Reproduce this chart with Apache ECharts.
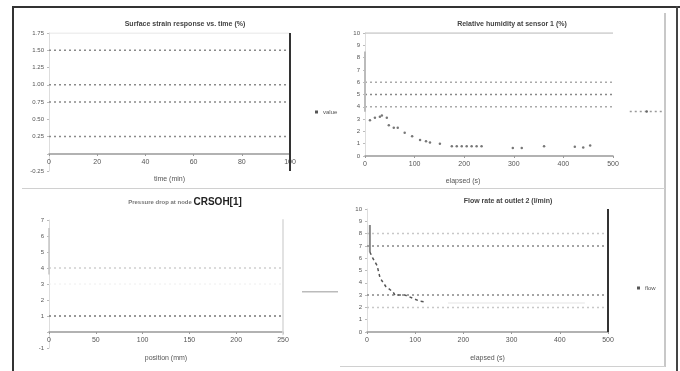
<!DOCTYPE html>
<html>
<head>
<meta charset="utf-8">
<script src="https://cdn.jsdelivr.net/npm/echarts@6/dist/echarts.min.js"></script>
<style>
  html, body { margin: 0; padding: 0; background: #fff; }
  #wrap { position: relative; width: 680px; height: 371px; overflow: hidden; }
  #chart { position: absolute; left: 0; top: 0; width: 680px; height: 371px; }
  .ln { position: absolute; }
</style>
</head>
<body>
<div id="wrap">
  <div class="ln" style="left:13px;top:6px;width:667px;height:2px;background:#333"></div>
  <div class="ln" style="left:12px;top:6px;width:2px;height:365px;background:#333"></div>
  <div class="ln" style="left:676px;top:6px;width:2px;height:365px;background:#444"></div>
  <div class="ln" style="left:664px;top:13px;width:2px;height:354px;background:#c8c8c8"></div>
  <div class="ln" style="left:22px;top:188px;width:643px;height:1px;background:#d0d0d0"></div>
  <div class="ln" style="left:340px;top:366px;width:325px;height:1px;background:#d0d0d0"></div>
  <div id="chart"></div>
</div>
<script>
// --- panel 1 (top left)
var tlTitle = 'Surface strain response vs. time (%)';
var tlXName = 'time (min)';
var tlLevels = [1.5, 1.0, 0.75, 0.25];
var tlTop = 1.75;
var tlEdgeX = 100;
var tlEdgeY = [-0.25, 1.75];

// --- panel 2 (top right)
var trTitle = 'Relative humidity at sensor 1 (%)';
var trXName = 'elapsed (s)';
var trLevels = [6, 5, 4];
var trTop = 10;
var trSpikeY = [8.5, 3.6];
var trX = [10, 20, 30, 34, 44, 48, 58, 66, 80, 95, 111, 123, 131, 151, 175, 185, 195, 205, 215, 225, 235, 298, 316, 361, 423, 440, 454];
var trY = [2.9, 3.1, 3.2, 3.3, 3.1, 2.5, 2.3, 2.3, 1.9, 1.6, 1.3, 1.2, 1.1, 1.0, 0.8, 0.8, 0.8, 0.8, 0.8, 0.8, 0.8, 0.65, 0.65, 0.8, 0.75, 0.7, 0.85];

// --- panel 3 (bottom left)
var blTitle = 'Pressure drop at node ';
var blTitleBold = 'CRSOH[1]';
var blXName = 'position (mm)';
var blLevels = [4, 1, 3];
var blSpikeY = [6.5, 3.6];
var blEdgeX = 250;
var blEdgeY = [-0.2, 7.1];

// --- panel 4 (bottom right)
var brTitle = 'Flow rate at outlet 2 (l/min)';
var brXName = 'elapsed (s)';
var brLevels = [8, 7, 3, 2];
var brFaint = { y: 2.35, x: [168, 452] };
var brSpikeY = [8.7, 6.5];
var brX = [6, 12, 21, 27, 39, 54, 58, 68, 79, 110, 120];
var brY = [6.5, 6.0, 5.4, 4.4, 3.7, 3.25, 3.0, 3.0, 3.0, 2.5, 2.45];
var brEdgeX = 500;
var brEdgeY = [0, 10];

var txt = '#555';
var font = 'Liberation Sans';

function level(i, y, x0, x1, color, width, type) {
    return {
        type: 'line', xAxisIndex: i, yAxisIndex: i,
        data: [[x0, y], [x1, y]], symbol: 'none', silent: true,
        lineStyle: { color: color, width: width, type: type }
    };
}
function vline(i, x, ys, color, width, name) {
    return {
        name: name, type: 'line', xAxisIndex: i, yAxisIndex: i,
        data: ys.map(function (y) { return [x, y]; }), symbol: 'none', silent: true,
        itemStyle: { color: color },
        lineStyle: { color: color, width: width }
    };
}
function xAx(i, min, max, step, name, gap, offset, pad) {
    return {
        gridIndex: i, type: 'value', min: min, max: max, interval: step,
        offset: offset,
        name: name, nameLocation: 'middle', nameGap: gap,
        nameTextStyle: { fontSize: 7, color: txt, fontFamily: font, padding: pad || 0 },
        axisLine: { onZero: false, lineStyle: { color: '#999', width: 1.5 } },
        axisTick: { length: 2, lineStyle: { color: '#999' } },
        axisLabel: { fontSize: 7, color: txt, fontFamily: font, margin: 5 },
        splitLine: { show: false }
    };
}
function yAx(i, min, max, step, hideZero, fmt) {
    return {
        gridIndex: i, type: 'value', min: min, max: max, interval: step,
        axisLine: { show: true, lineStyle: { color: '#ddd', width: 1 } },
        axisTick: { show: true, length: 2, lineStyle: { color: '#bbb' } },
        axisLabel: {
            fontSize: 6, color: txt, fontFamily: font, margin: 5,
            formatter: function (v) { return (hideZero && v === 0) ? '' : (fmt ? v.toFixed(2) : v); }
        },
        splitLine: { show: false }
    };
}

var series = [];
// panel 1
series.push(level(0, tlTop, 0, 100, '#e0e0e0', 1, 'solid'));
tlLevels.forEach(function (y) { series.push(level(0, y, 0, 100, '#8a8a8a', 1.5, [2, 3])); });
series.push(vline(0, tlEdgeX, tlEdgeY, '#333', 2, 'value'));
// panel 2
series.push(level(1, trTop, 0, 500, '#c8c8c8', 1.5, 'solid'));
series.push(level(1, trLevels[0], 0, 500, '#aaa', 1.5, [2, 3]));
series.push(level(1, trLevels[1], 0, 500, '#888', 1.5, [2, 3]));
series.push(level(1, trLevels[2], 0, 500, '#aaa', 1.5, [2, 3]));
series.push(vline(1, 0, trSpikeY, '#bbb', 2));
series.push({
    name: 'reading', type: 'line', xAxisIndex: 1, yAxisIndex: 1,
    data: trX.map(function (x, k) { return [x, trY[k]]; }),
    symbol: 'circle', symbolSize: 2.5, itemStyle: { color: '#777' },
    lineStyle: { width: 0, color: '#888' }
});
// panel 3
series.push(level(2, blLevels[0], 0, 250, '#cfcfcf', 1.5, [2, 3]));
series.push(level(2, blLevels[1], 0, 250, '#777', 1.5, [2, 3]));
series.push(level(2, blLevels[2], 0, 250, '#eeeeee', 1, [2, 3]));
series.push(vline(2, 0, blSpikeY, '#c4c4c4', 1.5));
series.push(vline(2, blEdgeX, blEdgeY, '#d8d8d8', 1.5, 'trend'));
// panel 4
series.push(level(3, brLevels[0], 0, 500, '#c8c8c8', 1.5, [2, 3]));
series.push(level(3, brLevels[1], 0, 500, '#888', 1.5, [2, 3]));
series.push(level(3, brLevels[2], 0, 500, '#888', 1.5, [2, 3]));
series.push(level(3, brLevels[3], 0, 500, '#c8c8c8', 1.5, [2, 3]));
series.push(level(3, brFaint.y, brFaint.x[0], brFaint.x[1], '#eeeeee', 1.5, 'solid'));
series.push(vline(3, brX[0], brSpikeY, '#888', 2));
series.push({
    name: 'flow', type: 'line', xAxisIndex: 3, yAxisIndex: 3,
    data: brX.map(function (x, k) { return [x, brY[k]]; }),
    symbol: 'none', itemStyle: { color: '#555' },
    lineStyle: { color: '#555', width: 1.5, type: [3, 3] }
});
series.push(vline(3, brEdgeX, brEdgeY, '#333', 2));

var myChart = echarts.init(document.getElementById('chart'), null, { renderer: 'canvas' });
var option = {
    animation: false,
    backgroundColor: 'transparent',
    textStyle: { fontFamily: font },
    title: [
        { text: tlTitle, left: 180, top: 16, textAlign: 'center', textStyle: { fontSize: 7, fontWeight: 'bold', color: '#444' } },
        { text: trTitle, left: 507, top: 16, textAlign: 'center', textStyle: { fontSize: 7, fontWeight: 'bold', color: '#444' } },
        {
            text: '{a|' + blTitle + '}{b|' + blTitleBold + '}', left: 180, top: 192, textAlign: 'center',
            textStyle: { rich: { a: { fontSize: 6, color: '#777' }, b: { fontSize: 10, fontWeight: 'bold', color: '#222' } } }
        },
        { text: brTitle, left: 503, top: 193, textAlign: 'center', textStyle: { fontSize: 7, fontWeight: 'bold', color: '#444' } }
    ],
    legend: [
        { left: 310, top: 104, data: ['value'], icon: 'rect', itemWidth: 3, itemHeight: 3, itemGap: 2,
          itemStyle: { color: '#555' }, textStyle: { fontSize: 6, color: txt }, selectedMode: false },
        { left: 624, top: 105, data: ['reading'], itemWidth: 34, itemHeight: 3,
          lineStyle: { width: 1.5, color: '#999', type: [2, 3] }, itemStyle: { color: '#666' },
          formatter: function () { return ''; }, textStyle: { fontSize: 6 }, selectedMode: false },
        { left: 297, top: 286, data: ['trend'], icon: 'rect', itemWidth: 36, itemHeight: 1.5,
          itemStyle: { color: '#bbb' },
          formatter: function () { return ''; }, textStyle: { fontSize: 6 }, selectedMode: false },
        { left: 632, top: 280, data: ['flow'], icon: 'rect', itemWidth: 3, itemHeight: 3, itemGap: 2,
          itemStyle: { color: '#555' }, textStyle: { fontSize: 6, color: txt }, selectedMode: false }
    ],
    grid: [
        { left: 49, top: 33, width: 241, height: 138 },
        { left: 365, top: 33, width: 248, height: 123 },
        { left: 49, top: 220, width: 234, height: 128 },
        { left: 367, top: 209, width: 241, height: 123 }
    ],
    xAxis: [
        xAx(0, 0, 100, 20, tlXName, 22, -17),
        xAx(1, 0, 500, 100, trXName, 22, 0, [0, 52, 0, 0]),
        xAx(2, 0, 250, 50, blXName, 23, -16),
        xAx(3, 0, 500, 100, brXName, 23, 0)
    ],
    yAxis: [
        yAx(0, -0.25, 1.75, 0.25, true, true),
        yAx(1, 0, 10, 1, false),
        yAx(2, -1, 7, 1, true),
        yAx(3, 0, 10, 1, false)
    ],
    series: series
};
myChart.setOption(option);
</script>
</body>
</html>
